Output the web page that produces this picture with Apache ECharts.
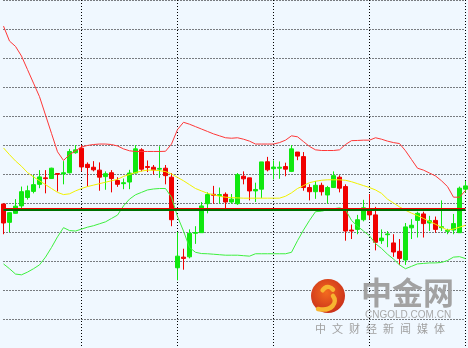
<!DOCTYPE html>
<html><head><meta charset="utf-8">
<style>html,body{margin:0;padding:0;background:#F0F8FF;overflow:hidden}#c{width:468px;height:348px}</style>
<script src="https://cdn.jsdelivr.net/npm/echarts@6/dist/echarts.min.js"></script>
</head><body><div id="c"></div>
<script>
const opens = [1214.90,1213.00,1213.93,1214.70,1215.57,1216.20,1216.93,1217.60,1217.53,1218.05,
1218.00,1218.13,1220.20,1220.67,1219.00,1218.70,1218.40,1217.73,1218.13,1217.33,
1217.00,1217.17,1218.10,1220.50,1218.77,1218.70,1218.50,1218.60,1217.67,1208.30,
1209.40,1209.43,1211.87,1211.93,1214.93,1215.90,1215.77,1215.90,1215.10,1214.93,
1217.77,1217.60,1216.25,1216.43,1219.27,1218.55,1218.60,1218.77,1218.27,1220.27,
1219.80,1216.60,1216.17,1216.83,1215.83,1216.60,1217.67,1216.70,1212.20,1212.27,
1213.27,1214.33,1213.77,1211.10,1211.72,1210.87,1210.00,1209.10,1212.43,1213.20,
1213.87,1212.93,1213.20,1212.45,1212.07,1212.20,1211.93,1216.43];
const closes = [1212.93,1214.00,1214.67,1216.17,1216.27,1216.90,1217.70,1217.52,1218.60,1217.97,
1218.13,1220.33,1220.50,1218.73,1218.67,1218.43,1217.67,1218.03,1217.53,1216.93,
1217.10,1218.10,1220.60,1218.50,1218.68,1218.43,1218.58,1217.83,1213.27,1209.50,
1209.27,1211.87,1211.95,1214.70,1215.87,1215.80,1215.87,1215.10,1215.40,1217.93,
1217.50,1216.25,1216.40,1219.25,1218.43,1218.72,1218.70,1218.50,1220.60,1219.85,
1216.60,1216.17,1216.83,1216.17,1216.60,1217.83,1216.53,1212.10,1212.10,1213.27,
1214.50,1213.77,1210.93,1211.37,1211.80,1209.93,1209.27,1212.53,1212.70,1213.93,
1212.87,1213.17,1212.27,1212.55,1212.17,1212.87,1216.53,1216.77];
const lows = [1211.77,1212.00,1213.90,1214.40,1215.35,1216.00,1216.53,1216.00,1217.50,1216.20,
1216.93,1218.05,1220.10,1218.27,1216.70,1218.27,1216.27,1216.37,1216.10,1216.67,
1216.43,1216.43,1218.05,1218.27,1218.20,1217.93,1217.60,1216.93,1212.60,1207.00,
1208.10,1209.27,1210.77,1211.93,1213.93,1214.93,1214.93,1214.43,1214.93,1214.80,
1216.93,1215.27,1215.10,1215.50,1218.27,1217.43,1217.50,1217.77,1218.20,1219.43,
1216.27,1215.27,1215.43,1215.77,1214.93,1216.55,1216.10,1211.10,1211.27,1211.77,
1213.10,1213.27,1210.10,1210.77,1210.43,1209.43,1208.60,1208.60,1211.27,1211.43,
1211.43,1212.10,1211.93,1212.10,1211.77,1211.77,1211.90,1216.10];
const highs = [1214.93,1214.05,1215.40,1216.70,1216.80,1217.90,1218.40,1218.40,1218.65,1218.05,
1219.33,1220.60,1221.00,1221.00,1219.20,1219.33,1219.20,1218.27,1218.40,1217.67,
1217.53,1218.43,1221.00,1220.67,1219.40,1218.93,1220.87,1218.93,1218.10,1212.00,
1210.27,1212.27,1212.60,1215.10,1216.10,1216.77,1216.60,1216.10,1215.93,1218.10,
1218.27,1217.60,1217.10,1219.25,1219.77,1219.40,1219.30,1219.17,1221.00,1220.27,
1220.27,1216.93,1217.27,1217.10,1216.77,1218.27,1217.87,1216.93,1212.77,1213.77,
1215.33,1215.93,1214.60,1212.27,1212.10,1211.77,1211.27,1212.93,1213.33,1214.10,
1214.10,1213.67,1213.60,1215.27,1212.33,1213.87,1216.70,1217.27];
const upperBand = [1233.30,1231.75,1231.20,1230.20,1228.80,1227.40,1226.00,1224.10,1222.20,1220.30,
1219.40,1220.00,1220.40,1220.80,1220.95,1221.05,1221.10,1221.10,1221.05,1220.90,
1220.60,1220.40,1220.33,1220.33,1220.33,1220.33,1220.33,1220.35,1221.10,1222.60,
1223.35,1223.15,1222.90,1222.65,1222.40,1222.15,1221.95,1221.75,1221.70,1221.75,
1221.60,1221.40,1221.10,1221.10,1221.10,1221.10,1221.25,1221.50,1221.95,1221.85,
1221.35,1220.85,1220.50,1220.43,1220.43,1220.43,1220.50,1221.05,1221.45,1221.47,
1221.50,1221.50,1221.75,1221.60,1221.40,1221.25,1221.15,1220.40,1219.50,1218.60,
1218.40,1218.10,1217.80,1217.30,1216.70,1215.60,1215.60,1216.30];
const middleBand = [1220.70,1220.00,1219.35,1218.80,1218.15,1217.70,1217.30,1216.90,1216.50,1216.10,
1215.87,1215.95,1216.25,1216.50,1216.70,1216.85,1217.00,1217.15,1217.30,1217.45,
1217.75,1217.95,1218.15,1218.30,1218.40,1218.40,1218.35,1218.25,1218.00,1217.65,
1217.30,1216.90,1216.50,1216.25,1216.00,1215.85,1215.70,1215.60,1215.55,1215.53,
1215.50,1215.50,1215.50,1215.50,1215.50,1215.50,1215.50,1215.70,1216.05,1216.50,
1216.80,1217.10,1217.25,1217.35,1217.40,1217.40,1217.40,1217.35,1217.20,1217.00,
1216.80,1216.60,1216.35,1216.00,1215.40,1215.00,1214.60,1214.25,1213.95,1213.70,
1213.40,1213.10,1212.80,1212.50,1212.20,1212.30,1212.50,1212.70];
const lowerBand = [1208.70,1208.20,1207.65,1207.57,1207.85,1208.20,1208.60,1209.40,1210.40,1211.50,
1212.45,1212.15,1212.10,1212.30,1212.50,1212.65,1212.85,1213.05,1213.40,1213.75,
1214.70,1215.40,1215.85,1216.10,1216.35,1216.45,1216.50,1216.50,1215.60,1213.60,
1212.10,1210.40,1209.90,1209.77,1209.75,1209.70,1209.65,1209.60,1209.60,1209.60,
1209.55,1209.50,1209.75,1209.75,1209.75,1209.75,1209.75,1209.75,1209.90,1211.10,
1212.20,1213.20,1214.10,1214.15,1214.30,1214.40,1214.50,1214.30,1213.20,1212.60,
1212.10,1211.60,1210.80,1210.30,1209.70,1209.20,1208.60,1208.20,1208.45,1208.70,
1208.75,1208.80,1208.80,1208.85,1209.05,1209.40,1209.45,1209.25];
const levelRed = 1214.45;
const levelGreen = 1214.28;
const yMin = 1200, yMax = 1236, yStep = 3;
const categories = opens.map((_, i) => 'K' + (i + 1));
const sloganChars = ['中', '文', '财', '经', '新', '闻', '媒', '体'];

const candleData = opens.map((o, i) => [o, closes[i], lows[i], highs[i]]);

const graphics = [
  {type: 'circle', shape: {cx: 328, cy: 296, r: 17}, z: 1,
    style: {fill: new echarts.graphic.RadialGradient(0.45, 0.4, 0.7, [
      {offset: 0, color: '#f36a1e'}, {offset: 1, color: '#c4281a'}])}},
  {type: 'arc', z: 2, shape: {cx: 328, cy: 293, r: 6, startAngle: -0.6, endAngle: 3.6, clockwise: false},
    style: {fill: 'none', stroke: '#f7b530', lineWidth: 4.5, lineCap: 'round'}},
  {type: 'bezierCurve', z: 2, shape: {x1: 333, y1: 296, cpx1: 338, cpy1: 302, cpx2: 332, cpy2: 312, x2: 318, y2: 309},
    style: {fill: 'none', stroke: '#f7b530', lineWidth: 4.5, lineCap: 'round'}},
  {type: 'text', z: 1, left: 361, top: 277,
    style: {text: '中金网', font: 'bold 31px "Noto Sans CJK SC"', fill: '#a2a2a2'}},
  {type: 'text', z: 1, left: 365, top: 310,
    style: {text: 'CNGOLD.COM.CN', font: '10px "Liberation Sans", Arial', fill: '#a8a8a8'}}
];
sloganChars.forEach((ch, k) => {
  graphics.push({type: 'text', z: 1, left: 315 + k * 17, top: 323,
    style: {text: ch, font: '11px "Noto Sans CJK SC"', fill: '#a0a0a0'}});
});

const chart = echarts.init(document.getElementById('c'), null, {renderer: 'canvas'});
chart.setOption({
  animation: false,
  backgroundColor: '#F0F8FF',
  grid: {left: 3.5, right: 2.5, top: -8.5, bottom: -3.5, containLabel: false},
  xAxis: {
    type: 'category', data: categories, boundaryGap: false,
    axisLine: {show: false}, axisTick: {show: false}, axisLabel: {show: false},
    splitLine: {show: true, interval: (idx) => idx % 16 === 13,
      lineStyle: {color: '#000', width: 1, type: [1, 2]}}
  },
  yAxis: {
    type: 'value', min: yMin, max: yMax, interval: yStep, scale: true,
    axisLine: {show: false}, axisTick: {show: false}, axisLabel: {show: false},
    splitLine: {show: true, lineStyle: {color: '#000', width: 1, type: [1, 2]}}
  },
  graphic: graphics,
  series: [
    {type: 'candlestick', data: candleData, barWidth: 4, clip: false, z: 3,
      itemStyle: {color: '#10e810', color0: '#f00000', borderColor: '#10e810', borderColor0: '#f00000', borderWidth: 1}},
    {type: 'line', data: upperBand, showSymbol: false, clip: false, z: 4,
      lineStyle: {color: '#ff3838', width: 1}},
    {type: 'line', data: middleBand, showSymbol: false, clip: false, z: 4,
      lineStyle: {color: '#f2f200', width: 1}},
    {type: 'line', data: lowerBand, showSymbol: false, clip: false, z: 4,
      lineStyle: {color: '#3ef03e', width: 1}},
    {type: 'line', data: [], z: 5,
      markLine: {silent: true, symbol: 'none', label: {show: false},
        data: [
          {yAxis: levelGreen, lineStyle: {color: '#006f00', width: 2, type: 'solid'}},
          {yAxis: levelRed, lineStyle: {color: '#ee0000', width: 1, type: 'solid'}}
        ]}}
  ]
});
</script></body></html>
